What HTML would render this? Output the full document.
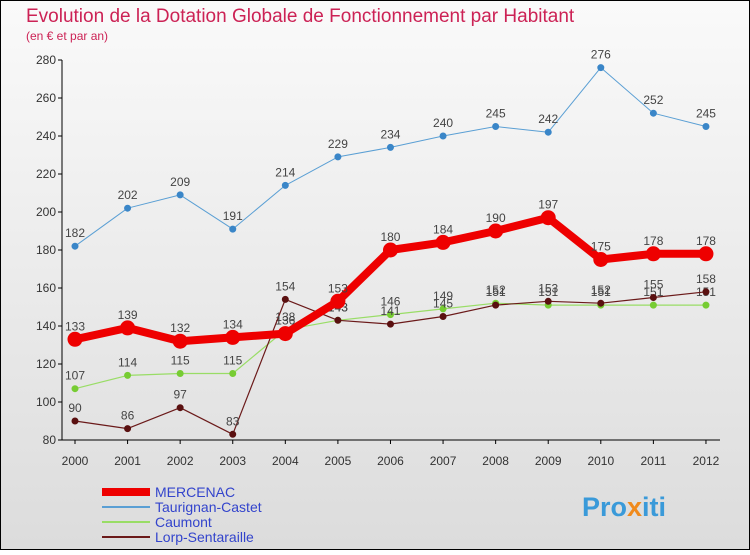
<!DOCTYPE html>
<html><head><meta charset="utf-8"><style>
body{margin:0}
#c{width:750px;height:550px;position:relative;font-family:"Liberation Sans",sans-serif}
</style></head><body>
<div id="c">
<svg id="s" width="750" height="550" xmlns="http://www.w3.org/2000/svg">
<defs><linearGradient id="bg" x1="0" y1="0" x2="0" y2="1"><stop offset="0" stop-color="#fafafa"/><stop offset="1" stop-color="#dcdcdc"/></linearGradient></defs>
<rect x="0.5" y="0.5" width="749" height="549" fill="url(#bg)" stroke="#000"/>
<text x="26" y="22" font-size="19" fill="#cc2255">Evolution de la Dotation Globale de Fonctionnement par Habitant</text>
<text x="26" y="40" font-size="12" fill="#cc2255">(en € et par an)</text>
<g id="axes"></g><g id="series"></g><g id="legend"></g>
<text x="582" y="516" font-size="27" font-weight="bold" fill="#3a9ad9">Pro<tspan fill="#f08a1c">x</tspan>iti</text>
</svg></div>
<script>
const years=[2000,2001,2002,2003,2004,2005,2006,2007,2008,2009,2010,2011,2012];
const yTicks=[80,100,120,140,160,180,200,220,240,260,280];
const mercenac=[133,139,132,134,136,153,180,184,190,197,175,178,178];
const taurignan=[182,202,209,191,214,229,234,240,245,242,276,252,245];
const caumont=[107,114,115,115,138,143,146,149,152,151,151,151,151];
const lorp=[90,86,97,83,154,143,141,145,151,153,152,155,158];
const NS="http://www.w3.org/2000/svg";
const X=i=>75+i*52.58, Y=v=>440-(v-80)*1.9;
function mk(t,a,p){const e=document.createElementNS(NS,t);for(const k in a)e.setAttribute(k,a[k]);p.appendChild(e);return e;}
const ax=document.getElementById('axes');
let l=mk('line',{x1:62,y1:60,x2:62,y2:440,stroke:'#000'},ax);


l=mk('line',{x1:62,y1:440,x2:720,y2:440,stroke:'#000'},ax);


yTicks.forEach(v=>{mk('line',{x1:58,y1:Y(v),x2:62,y2:Y(v),stroke:'#000'},ax);
const t=mk('text',{x:56,y:Y(v)+4,'font-size':12,'text-anchor':'end',fill:'#333'},ax);t.textContent=v;

});
years.forEach((y,i)=>{mk('line',{x1:X(i),y1:440,x2:X(i),y2:444,stroke:'#000'},ax);
const t=mk('text',{x:X(i),y:465,'font-size':12,'text-anchor':'middle',fill:'#333'},ax);t.textContent=y;

});
const sg=document.getElementById('series');
function series(d,col,w,r,name,dot){
const g=mk('g',{},sg);


mk('polyline',{points:d.map((v,i)=>X(i)+','+Y(v)).join(' '),fill:'none',stroke:col,'stroke-width':w,'stroke-linejoin':'round'},g);
d.forEach((v,i)=>{const c=mk('circle',{cx:X(i),cy:Y(v),r:r,fill:dot,stroke:dot},g);


const t=mk('text',{x:X(i),y:Y(v)-9,'font-size':12,'text-anchor':'middle',fill:'#444'},g);t.textContent=v;

});}
series(taurignan,'#5a9fd4',1,3,'taurignan','#3a86c8');
series(caumont,'#99dd66',1.2,3,'caumont','#77cc33');
series(lorp,'#6b1a1a',1.2,3,'lorp','#5a1010');
series(mercenac,'#ee0000',8,7,'mercenac','#ee0000');
const lg=document.getElementById('legend');
[['MERCENAC','#ee0000',8],['Taurignan-Castet','#5a9fd4',2],['Caumont','#99dd66',2],['Lorp-Sentaraille','#6b1a1a',2]].forEach((e,i)=>{
const y=492+i*15;
const g=mk('g',{},lg);


mk('line',{x1:102,y1:y,x2:150,y2:y,stroke:e[1],'stroke-width':e[2]},g);
const t=mk('text',{x:155,y:y+5,'font-size':14,fill:'#3344cc'},g);t.textContent=e[0];});
</script>
</body></html>
